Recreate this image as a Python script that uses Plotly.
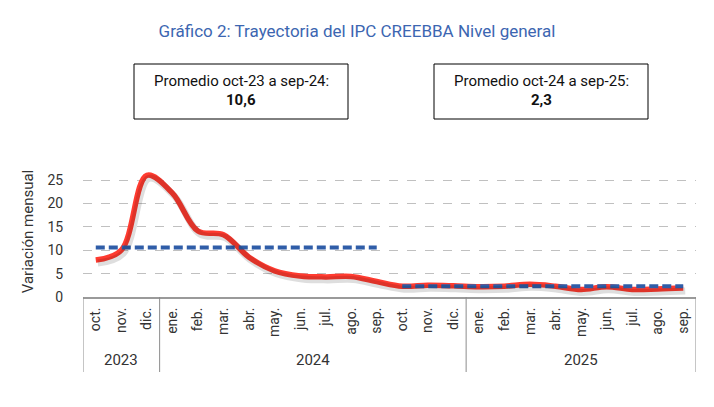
import plotly.graph_objects as go

months = ["oct.", "nov.", "dic.", "ene.", "feb.", "mar.", "abr.", "may.", "jun.", "jul.", "ago.", "sep.",
          "oct.", "nov.", "dic.", "ene.", "feb.", "mar.", "abr.", "may.", "jun.", "jul.", "ago.", "sep."]
years = ["2023", "2024", "2025"]
year_spans = [(0, 2), (3, 14), (15, 23)]
variacion = [7.9, 10.0, 26.0, 22.2, 14.1, 13.3, 8.5, 5.6, 4.5, 4.3, 4.4, 3.3,
             2.3, 2.5, 2.4, 2.2, 2.3, 2.7, 2.3, 1.6, 2.2, 1.6, 1.7, 1.9]
promedio_1 = 10.6
promedio_2 = 2.3
promedio_labels = ["Promedio oct-23 a sep-24:", "Promedio oct-24 a sep-25:"]
promedio_values = ["10,6", "2,3"]

x = list(range(len(months)))
FONT = "Roboto"
L, R, T, B = 83, 18, 166, 110
W, H = 714, 407
pw = W - L - R
ph = H - T - B

fig = go.Figure()

# shadow (same data, slightly offset axes)
dx = 2.0 / (pw / 24)
dy = 3.0 / (ph / 28)
fig.add_trace(go.Scatter(x=x, y=variacion, mode="lines", xaxis="x2", yaxis="y2",
                         line=dict(color="rgba(0,0,0,0.13)", width=7, shape="spline", smoothing=1.0),
                         hoverinfo="skip", showlegend=False))
fig.add_trace(go.Scatter(x=x, y=variacion, mode="lines",
                         line=dict(color="#FF3B30", width=5.5, shape="spline", smoothing=1.0),
                         showlegend=False))
fig.add_trace(go.Scatter(x=x[:12], y=[promedio_1] * 12, mode="lines",
                         line=dict(color="#2F5DA8", width=4, dash="9px,4px"), showlegend=False))
fig.add_trace(go.Scatter(x=x[12:], y=[promedio_2] * 12, mode="lines",
                         line=dict(color="#2F5DA8", width=4, dash="9px,4px"), showlegend=False))

shapes = []
for xv in [-0.5, 2.5, 14.5, 23.5]:
    shapes.append(dict(type="line", xref="x", yref="paper", x0=xv, x1=xv, y0=0, y1=-75 / ph,
                       line=dict(color="#8c8c8c", width=1)))
annotations = []
for yr, (a, b) in zip(years, year_spans):
    annotations.append(dict(text=yr, x=(a + b) / 2, xref="x", y=0, yref="paper", yshift=-63,
                            showarrow=False, font=dict(family=FONT, size=15, color="#333"),
                            yanchor="middle"))

boxes = [(134, 348), (434, 648)]
for (bx0, bx1), lab, val in zip(boxes, promedio_labels, promedio_values):
    shapes.append(dict(type="rect", xref="paper", yref="paper",
                       x0=(bx0 - L) / pw, x1=(bx1 - L) / pw,
                       y0=(H - B - 119) / ph, y1=(H - B - 64) / ph,
                       line=dict(color="black", width=1), fillcolor="white"))
    cx = ((bx0 + bx1) / 2 - L) / pw
    annotations.append(dict(text=lab, x=cx, xref="paper", y=(H - B - 81) / ph, yref="paper",
                            showarrow=False, font=dict(family=FONT, size=15, color="#111"),
                            xanchor="center", yanchor="middle"))
    annotations.append(dict(text="<b>" + val + "</b>", x=cx, xref="paper", y=(H - B - 100) / ph,
                            yref="paper", showarrow=False,
                            font=dict(family=FONT, size=15, color="#111"),
                            xanchor="center", yanchor="middle"))

fig.update_layout(
    width=W, height=H,
    margin=dict(l=L, r=R, t=T, b=B),
    paper_bgcolor="white", plot_bgcolor="white",
    title=dict(text="Gráfico 2: Trayectoria del IPC CREEBBA Nivel general",
               x=0.5, xanchor="center", y=1 - 31 / H, yanchor="middle",
               font=dict(family=FONT, size=17, color="#3C66B1")),
    xaxis=dict(range=[-0.5, 23.5], tickmode="array", tickvals=x, ticktext=months,
               tickangle=-90, showgrid=False, zeroline=False,
               showline=True, linecolor="#9a9a9a", linewidth=2,
               ticks="outside", ticklen=3, tickcolor="rgba(0,0,0,0)",
               tickfont=dict(family=FONT, size=14, color="#333")),
    yaxis=dict(range=[0, 28], tickvals=[0, 5, 10, 15, 20, 25], showgrid=True,
               gridcolor="#c0c0c0", griddash="dash", gridwidth=1, zeroline=False,
               showline=False, ticks="outside", ticklen=16, tickcolor="rgba(0,0,0,0)",
               tickfont=dict(family=FONT, size=14, color="#333"),
               title=dict(text="Variación mensual", standoff=10,
                          font=dict(family=FONT, size=15, color="#333"))),
    xaxis2=dict(range=[-0.5 - dx, 23.5 - dx], overlaying="x", visible=False),
    yaxis2=dict(range=[0 + dy, 28 + dy], overlaying="y", visible=False),
    shapes=shapes, annotations=annotations,
)

fig.write_html("out.html")
